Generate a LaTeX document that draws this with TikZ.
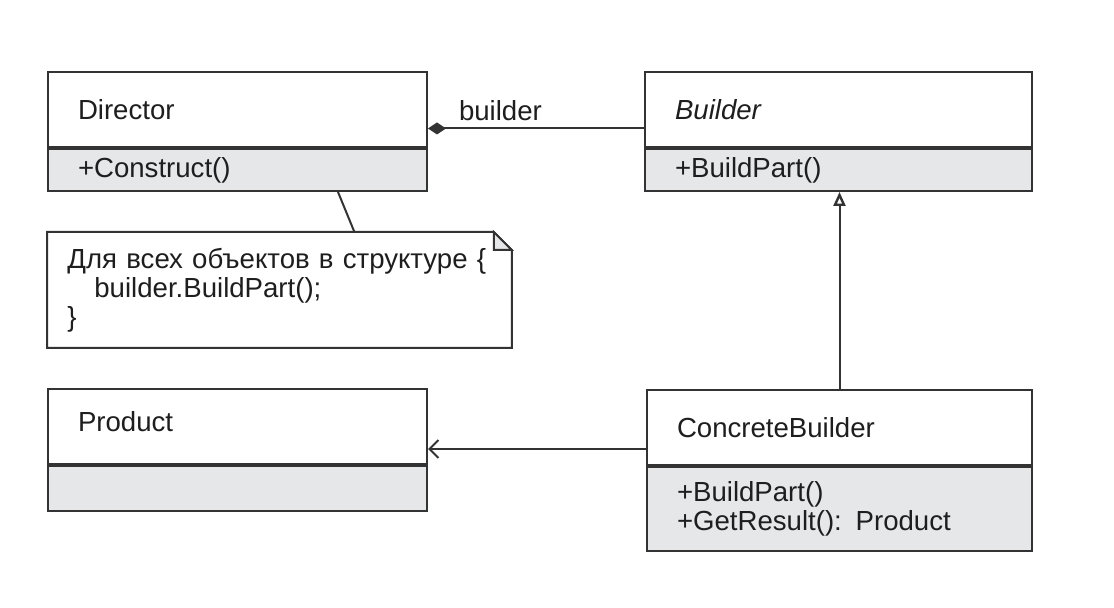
\documentclass[tikz,border=0pt]{standalone}
\usepackage{fontspec}
\setmainfont{Liberation Sans}
\usetikzlibrary{arrows.meta}
\definecolor{umlline}{HTML}{333333}
\definecolor{umlgray}{HTML}{E6E7E8}
\definecolor{umltext}{HTML}{1E1E1E}
\tikzset{
        every node/.style={font=\fontsize{13.8}{14.5}\selectfont, text=umltext},
        classname/.style={draw=umlline, line width=1pt, fill=white, anchor=north west, align=left, inner xsep=15pt, text width=#1, minimum height=37.5pt},
        classops/.style={draw=umlline, line width=1pt, fill=umlgray, anchor=north, align=left, inner xsep=15pt, text width=#1},
        notetext/.style={anchor=north west, align=left, inner xsep=10pt, text width=212pt, minimum height=57.5pt},
        link/.style={draw=umlline, line width=1pt},
        composition/.style={link, -{Diamond[length=9pt, width=6pt]}},
        inherits/.style={link, -{Triangle[open, length=7pt, width=6pt, line width=1.2pt]}},
        uses/.style={link, -{Straight Barb[length=4.5pt, width=9pt, line width=1pt]}}
          }
\begin{document}
\begin{tikzpicture}[x=0.5pt, y=-0.5pt]
        \useasboundingbox (0,0) rectangle (1114,608);
        % classes
        \node[classname=159.5pt] (director) at (47,71) {\raisebox{-1.5pt}{Director}};
        \node[classops=159.5pt, minimum height=21pt] (directorops) at (director.south) {+Construct()};
        \node[classname=163.5pt] (builder) at (644,71) {\raisebox{-1pt}{\itshape Builder}};
        \node[classops=163.5pt, minimum height=21pt] (builderops) at (builder.south) {+BuildPart()};
        \node[classname=159.5pt] (product) at (47,388) {\raisebox{4.5pt}{Product}};
        \node[classops=159.5pt, minimum height=22.5pt] (productops) at (product.south) {};
        \node[classname=162.5pt] (concrete) at (646,389) {ConcreteBuilder};
        \node[classops=162.5pt, minimum height=42pt] (concreteops) at (concrete.south) {+BuildPart()\\+GetResult(): Product};
        % note
        \node[notetext] (note) at (47,232) {Для всех объектов в структуре \{\\\hspace*{13.5pt}builder.BuildPart();\\\}};
        \draw[link] (note.south west) -- (note.north west) -- ([xshift=-9pt]note.north east)
          -- ([yshift=-9pt]note.north east) -- (note.south east) -- cycle;
        \draw[link, fill=umlgray] ([xshift=-9pt]note.north east) -- ([xshift=-9pt, yshift=-9pt]note.north east)
          -- ([yshift=-9pt]note.north east) -- cycle;
        % connectors
        \draw[link] ([xshift=50.25pt]directorops.south) -- ([xshift=37.5pt]note.north);
        \draw[composition] ([yshift=-9.5pt]builder.west) -- ([yshift=-9.5pt]director.east)
          node[pos=1, anchor=south west, xshift=13pt, yshift=1.5pt, inner sep=2pt] (role) {builder};
        \draw[inherits] (concrete.north) -- (concrete.north |- builderops.south);
        \draw[uses] ([yshift=-10.75pt]concrete.west) -- ([yshift=-10.75pt]concrete.west -| product.east);
\end{tikzpicture}
\end{document}
